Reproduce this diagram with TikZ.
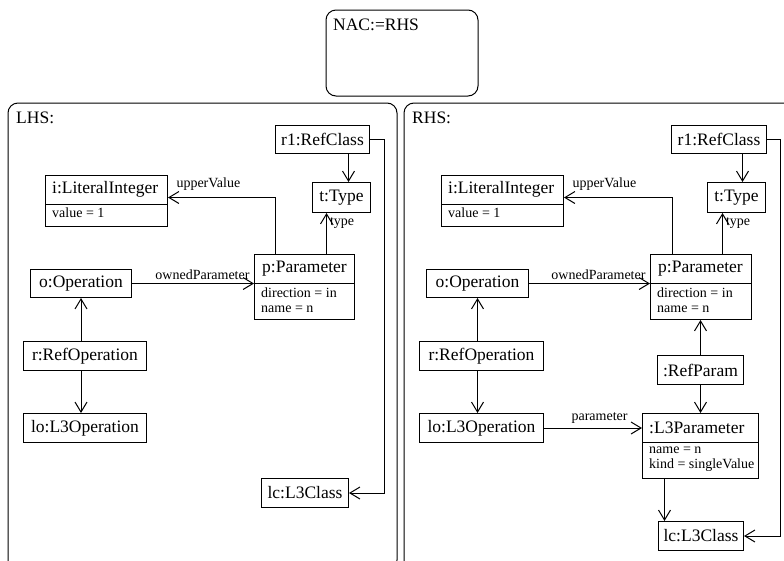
\documentclass[tikz,border=0pt]{standalone}
\usepackage{fontspec}
\setmainfont{Liberation Serif}
\usetikzlibrary{arrows.meta}

\newcommand{\objfont}{\fontsize{17.5}{20}\selectfont}
\newcommand{\rolefont}{\fontsize{14}{15}\selectfont}

\tikzset{
    obj/.style={draw, line width=1pt, anchor=north west, inner sep=0pt, font=\objfont},
    head/.style={anchor=west, inner sep=0pt, font=\objfont},
    attr/.style={anchor=north west, inner sep=0pt, align=left, font=\rolefont},
    lnk/.style={-{Straight Barb[length=10pt,width=12pt]}, line width=1pt},
    role/.style={inner sep=0pt, font=\rolefont},
    graph/.style={draw, line width=1pt, rounded corners=10pt}
}

\begin{document}
\begin{tikzpicture}[x=1pt, y=-1pt]
    \useasboundingbox (0,0) rectangle (784,560);
    \clip (0,0) rectangle (784,560);

    % Rule parts
    \draw[graph] (326,10) rectangle (478,96);
    \node[anchor=west, inner sep=0pt, font=\objfont] (nac) at (333,25) {NAC:=RHS};
    \draw[graph] (8,103) rectangle (397,570);
    \node[anchor=west, inner sep=0pt, font=\objfont] (lhs) at (16,118) {LHS:};
    \draw[graph] (404,103) rectangle (800,570);
    \node[anchor=west, inner sep=0pt, font=\objfont] (rhs) at (412,118) {RHS:};

    % ---------------- LHS ----------------
    \node[obj, minimum width=94, minimum height=28] (l-r1) at (275,125) {r1:RefClass};
    \node[obj, minimum width=58, minimum height=30] (l-t) at (312,182) {t:Type};

    \node[obj, minimum width=122, minimum height=51] (l-i) at (45,175) {};
    \draw[line width=1pt] (45,204) -- (167,204);
    \node[head] (l-i-name) at (52,189.5) {i:LiteralInteger};
    \node[attr] (l-i-attr) at (52,208) {value = 1};

    \node[obj, minimum width=100, minimum height=65] (l-p) at (254,254) {};
    \draw[line width=1pt] (254,283) -- (354,283);
    \node[head] (l-p-name) at (262,268.5) {p:Parameter};
    \node[attr] (l-p-attr) at (261,288) {direction = in\\name = n};

    \node[obj, minimum width=101, minimum height=28] (l-o) at (30,269) {o:Operation};
    \node[obj, minimum width=123, minimum height=29] (l-r) at (23,341) {r:RefOperation};
    \node[obj, minimum width=123, minimum height=29] (l-lo) at (23,413) {lo:L3Operation};
    \node[obj, minimum width=87, minimum height=29] (l-lc) at (261,478) {lc:L3Class};

    % LHS links
    \draw[lnk] (l-o) -- (l-o -| l-p.west)
        node[role, pos=1, anchor=south east, xshift=-4pt, yshift=3pt] (l-own) {ownedParameter};
    \draw[lnk] ([xshift=-29pt]l-p.north) |- ([yshift=3.5pt]l-i.east)
        node[role, pos=1, anchor=south west, xshift=8pt, yshift=7pt] (l-upper) {upperValue};
    \draw[lnk] ([xshift=22pt]l-p.north) -- ([xshift=22pt]l-p.north |- l-t.south)
        node[role, pos=1, anchor=north west, xshift=3pt, yshift=-4pt] (l-type) {type};
    \draw[lnk] ([xshift=26pt]l-r1.south) -- ([xshift=26pt]l-r1.south |- l-t.north);
    \draw[lnk] (l-r1.east) -- ++(14,0) |- (l-lc.east);
    \draw[lnk] (l-r.north -| l-o.south) -- (l-o.south);
    \draw[lnk] (l-r.south -| l-o.south) -- (l-lo.north -| l-o.south);

    % ---------------- RHS ----------------
    \node[obj, minimum width=95, minimum height=28] (r-r1) at (671,125) {r1:RefClass};
    \node[obj, minimum width=58, minimum height=30] (r-t) at (707,182) {t:Type};

    \node[obj, minimum width=122, minimum height=51] (r-i) at (441,175) {};
    \draw[line width=1pt] (441,204) -- (563,204);
    \node[head] (r-i-name) at (448,189.5) {i:LiteralInteger};
    \node[attr] (r-i-attr) at (448,208) {value = 1};

    \node[obj, minimum width=101, minimum height=65] (r-p) at (650,254) {};
    \draw[line width=1pt] (650,283) -- (751,283);
    \node[head] (r-p-name) at (658,268.5) {p:Parameter};
    \node[attr] (r-p-attr) at (657,288) {direction = in\\name = n};

    \node[obj, minimum width=102, minimum height=28] (r-o) at (426,269) {o:Operation};
    \node[obj, minimum width=124, minimum height=29] (r-r) at (419,341) {r:RefOperation};
    \node[obj, minimum width=124, minimum height=29] (r-lo) at (419,413) {lo:L3Operation};
    \node[obj, minimum width=86, minimum height=29] (r-rp) at (657,355) {:RefParam};

    \node[obj, minimum width=116, minimum height=65] (r-l3p) at (642,413) {};
    \draw[line width=1pt] (642,442) -- (758,442);
    \node[head] (r-l3p-name) at (649,427.5) {:L3Parameter};
    \node[attr] (r-l3p-attr) at (649,447) {name = n\\kind = singleValue};

    \node[obj, minimum width=85, minimum height=29] (r-lc) at (658,521) {lc:L3Class};

    % RHS links
    \draw[lnk] (r-o) -- (r-o -| r-p.west)
        node[role, pos=1, anchor=south east, xshift=-4pt, yshift=3pt] (r-own) {ownedParameter};
    \draw[lnk] ([xshift=-28.5pt]r-p.north) |- ([yshift=3.5pt]r-i.east)
        node[role, pos=1, anchor=south west, xshift=8pt, yshift=7pt] (r-upper) {upperValue};
    \draw[lnk] ([xshift=21.5pt]r-p.north) -- ([xshift=21.5pt]r-p.north |- r-t.south)
        node[role, pos=1, anchor=north west, xshift=3pt, yshift=-4pt] (r-type) {type};
    \draw[lnk] ([xshift=23.5pt]r-r1.south) -- ([xshift=23.5pt]r-r1.south |- r-t.north);
    \draw[lnk] (r-r1.east) -- ++(13,0) |- (r-lc.east);
    \draw[lnk] (r-r.north -| r-o.south) -- (r-o.south);
    \draw[lnk] (r-r.south -| r-o.south) -- (r-lo.north -| r-o.south);
    \draw[lnk] (r-rp.north) -- (r-rp.north |- r-p.south);
    \draw[lnk] (r-rp.south) -- (r-rp.south |- r-l3p.north);
    \draw[lnk] (r-lo) -- (r-lo -| r-l3p.west)
        node[role, pos=1, anchor=south east, xshift=-14pt, yshift=4pt] (r-par) {parameter};
    \draw[lnk] ([xshift=-36pt]r-l3p.south) -- ([xshift=-36pt]r-l3p.south |- r-lc.north);
\end{tikzpicture}
\end{document}
